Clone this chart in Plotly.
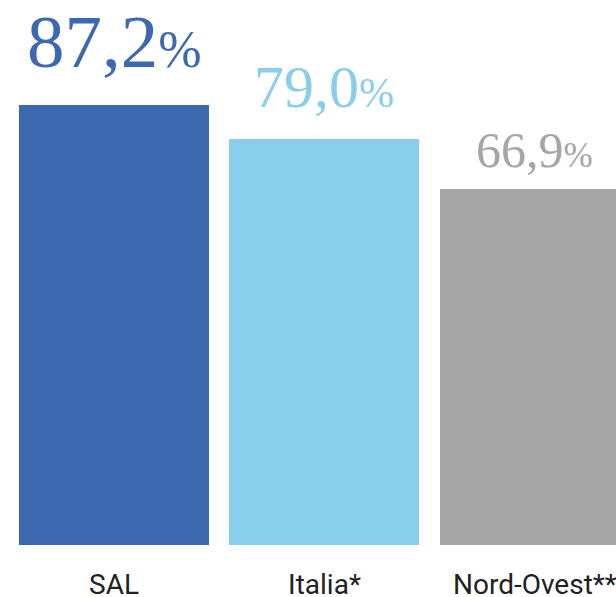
import plotly.graph_objects as go

# Data
categories = ["SAL", "Italia*", "Nord-Ovest**"]
values = [87.2, 79.0, 66.9]
colors = ["#3c69b0", "#89cfeb", "#a6a6a6"]
label_sizes = [75, 60, 50]
label_lift = [20, 17, 9]

# value axis floor used as the common bar base
axis_floor = -19.1
axis_top = 112.6

def fmt(v):
    return f"{v:.1f}".replace(".", ",")

fig = go.Figure()
fig.add_trace(go.Bar(
    x=categories,
    y=[v - axis_floor for v in values],
    base=axis_floor,
    marker=dict(color=colors, line=dict(width=0)),
    width=0.9026,
    hoverinfo="skip",
))

for cat, v, c, s, lift in zip(categories, values, colors, label_sizes, label_lift):
    fig.add_annotation(
        x=cat, y=v, xref="x", yref="y",
        text=f"{fmt(v)}<span style='font-size:{int(s*0.7)}px'>%</span>",
        showarrow=False, yanchor="bottom", yshift=lift,
        font=dict(family="Liberation Serif", size=s, color=c),
    )

fig.update_layout(
    width=616, height=597,
    margin=dict(l=0, r=0, t=0, b=52),
    paper_bgcolor="white", plot_bgcolor="white",
    showlegend=False,
    bargap=0,
)
fig.update_xaxes(
    range=[-0.5416, 2.385],
    showgrid=False, showline=False, zeroline=False, ticks="",
    tickfont=dict(family="Roboto", size=28, color="#222222"),
    ticklabelstandoff=20,
    automargin=False,
)
fig.update_yaxes(
    range=[axis_floor, axis_top],
    visible=False, showgrid=False, zeroline=False,
)

fig.write_html("out.html")
